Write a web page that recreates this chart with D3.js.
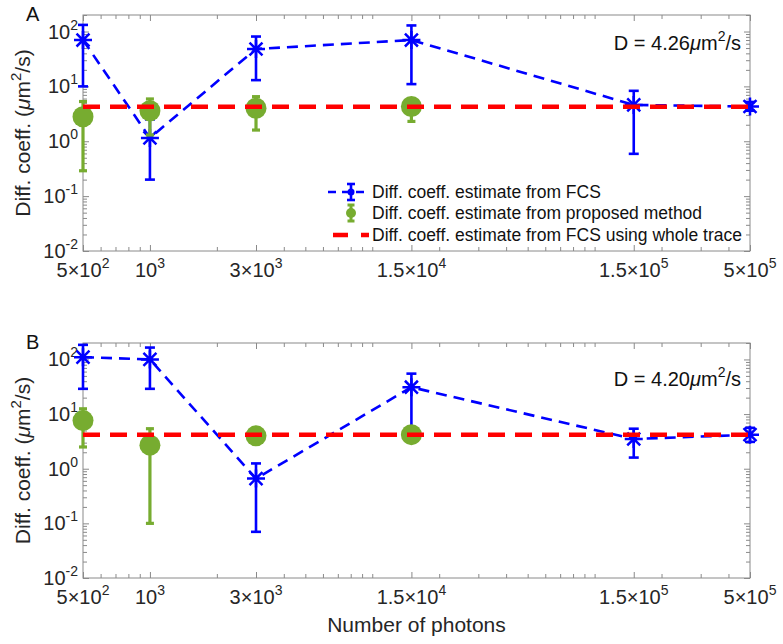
<!DOCTYPE html>
<html>
<head>
<meta charset="utf-8">
<script src="https://cdn.jsdelivr.net/npm/d3@7"></script>
<style>
body { margin: 0; background: #fff; }
svg { font-family: "Liberation Sans", Arial, Helvetica, sans-serif; }
</style>
</head>
<body>
<svg width="783" height="644"></svg>
<script>
// number of photons (x positions)
var photons = [500, 1000, 3000, 15000, 150000, 500000];
var xTickMant = ["5", "", "3", "1.5", "1.5", "5"];
var xTickExp = ["2", "3", "3", "4", "5", "5"];
var yTicks = [0.01, 0.1, 1, 10, 100];
var yTickExp = ["-2", "-1", "0", "1", "2"];

// panel A
var fcsA = [70, 1.15, 48, 70, 4.6, 4.3];
var fcsALo = [10, 0.2, 13, 11, 0.59, 3.6];
var fcsAHi = [132, 2.5, 81, 129, 8.3, 5.2];
var propA = [2.8, 3.6, 4.0, 4.3];
var propALo = [0.29, 1.3, 1.6, 2.3];
var propAHi = [5.3, 5.9, 6.5, 5.8];
var wholeA = 4.26;

// panel B
var fcsB = [110, 100, 0.66, 31, 3.5, 4.2];
var fcsBLo = [29, 29, 0.07, 4.2, 1.6, 3.1];
var fcsBHi = [185, 165, 1.25, 55, 5.4, 5.6];
var propB = [7.6, 2.7, 4.0, 4.2];
var propBLo = [2.5, 0.1, 3.6, 3.8];
var propBHi = [12.5, 5.4, 4.6, 4.6];
var wholeB = 4.20;

var legendLabels = ["Diff. coeff. estimate from FCS",
                    "Diff. coeff. estimate from proposed method",
                    "Diff. coeff. estimate from FCS using whole trace"];

var blue = "#0000ff", green = "#77ac30", red = "#ff0000";
var axisColor = "#8a8a8a", textColor = "#262626";

var svg = d3.select('svg');
var left = 83, right = 750;

var x = d3.scaleLog().domain([500, 5e5]).range([left, right]);

function sci(sel, mant, exp) {
    sel.append('tspan').text(mant ? mant + '\u00d710' : '10');
    sel.append('tspan').attr('dy', -9).style('font-size', '14px').text(exp);
}

function asterisk(g, cx, cy) {
    var r = 9, d = r * 0.72;
    g.append('path')
     .attr('d', 'M' + (cx - r) + ',' + cy + 'L' + (cx + r) + ',' + cy +
                'M' + cx + ',' + (cy - r) + 'L' + cx + ',' + (cy + r) +
                'M' + (cx - d) + ',' + (cy - d) + 'L' + (cx + d) + ',' + (cy + d) +
                'M' + (cx - d) + ',' + (cy + d) + 'L' + (cx + d) + ',' + (cy - d))
     .attr('stroke', blue).attr('stroke-width', 2.5).attr('fill', 'none');
}

function errbar(g, cx, y0, y1, color, w, cap) {
    g.append('line').attr('x1', cx).attr('x2', cx).attr('y1', y0).attr('y2', y1)
     .attr('stroke', color).attr('stroke-width', w);
    [y0, y1].forEach(function(yy) {
        g.append('line').attr('x1', cx - cap).attr('x2', cx + cap).attr('y1', yy).attr('y2', yy)
         .attr('stroke', color).attr('stroke-width', w);
    });
}

function panel(top, bottom, letter, fcs, lo, hi, prop, plo, phi, whole, annotDy, showLegend) {
    var g = svg.append('g');
    var y = d3.scaleLog().domain([0.01, 200]).range([bottom, top]);

    var minorX = x.ticks().filter(function(v) { return photons.indexOf(v) < 0; });
    var minorY = y.ticks().filter(function(v) { return yTicks.indexOf(v) < 0; });

    // ticks (pointing inward)
    function ax(axis, tr, vals, len) {
        var a = g.append('g').attr('transform', tr)
            .call(axis.tickValues(vals).tickSize(-len).tickFormat(''));
        a.select('.domain').remove();
        a.selectAll('line').attr('stroke', axisColor);
    }
    ax(d3.axisBottom(x), 'translate(0,' + bottom + ')', photons, 6);
    ax(d3.axisBottom(x), 'translate(0,' + bottom + ')', minorX, 4);
    ax(d3.axisTop(x), 'translate(0,' + top + ')', photons, 6);
    ax(d3.axisTop(x), 'translate(0,' + top + ')', minorX, 4);
    ax(d3.axisLeft(y), 'translate(' + left + ',0)', yTicks, 6);
    ax(d3.axisLeft(y), 'translate(' + left + ',0)', minorY, 4);
    ax(d3.axisRight(y), 'translate(' + right + ',0)', yTicks, 6);
    ax(d3.axisRight(y), 'translate(' + right + ',0)', minorY, 4);

    g.append('rect').attr('x', left).attr('y', top)
     .attr('width', right - left).attr('height', bottom - top)
     .attr('fill', 'none').attr('stroke', axisColor).attr('stroke-width', 1);

    // tick labels
    photons.forEach(function(p, i) {
        var t = g.append('text').attr('x', x(p)).attr('y', bottom + 26)
            .attr('text-anchor', 'middle').attr('fill', textColor).style('font-size', '20px');
        sci(t, xTickMant[i], xTickExp[i]);
    });
    yTicks.forEach(function(v, i) {
        var t = g.append('text').attr('x', 78).attr('y', y(v) + 7)
            .attr('text-anchor', 'end').attr('fill', textColor).style('font-size', '20px');
        sci(t, '', yTickExp[i]);
    });

    // y label
    var yl = g.append('text')
        .attr('transform', 'translate(30,' + ((top + bottom) / 2) + ') rotate(-90)')
        .attr('text-anchor', 'middle').attr('fill', textColor).style('font-size', '21px');
    yl.append('tspan').text('Diff. coeff. (');
    yl.append('tspan').style('font-style', 'italic').text('\u03bc');
    yl.append('tspan').text('m');
    yl.append('tspan').attr('dy', -9).style('font-size', '15px').text('2');
    yl.append('tspan').attr('dy', 9).text('/s)');

    // panel letter
    g.append('text').attr('x', 26).attr('y', top + 6).attr('fill', '#111')
     .style('font-size', '20px').text(letter);

    // FCS estimates
    var line = d3.line().x(function(d, i) { return x(photons[i]); }).y(function(d) { return y(d); });
    g.append('path').datum(fcs).attr('d', line)
     .attr('fill', 'none').attr('stroke', blue).attr('stroke-width', 2.6)
     .attr('stroke-dasharray', '11,7');
    fcs.forEach(function(v, i) {
        errbar(g, x(photons[i]), y(lo[i]), y(hi[i]), blue, 2.6, 5);
        asterisk(g, x(photons[i]), y(v));
    });

    // proposed method
    prop.forEach(function(v, i) {
        errbar(g, x(photons[i]), y(plo[i]), y(phi[i]), green, 3.2, 4);
        g.append('circle').attr('cx', x(photons[i])).attr('cy', y(v)).attr('r', 10.5)
         .attr('fill', green);
    });

    // whole trace
    g.append('line').attr('x1', left).attr('x2', right)
     .attr('y1', y(whole)).attr('y2', y(whole))
     .attr('stroke', red).attr('stroke-width', 4.5).attr('stroke-dasharray', '17,10');

    // annotation
    var an = g.append('text').attr('x', 741).attr('y', top + annotDy)
        .attr('text-anchor', 'end').attr('fill', '#111').style('font-size', '20px');
    an.append('tspan').text('D = ' + whole.toFixed(2));
    an.append('tspan').style('font-style', 'italic').text('\u03bc');
    an.append('tspan').text('m');
    an.append('tspan').attr('dy', -9).style('font-size', '14px').text('2');
    an.append('tspan').attr('dy', 9).text('/s');

    if (showLegend) {
        var rows = [192, 213, 235];
        var lg = g.append('g');
        // FCS
        lg.append('line').attr('x1', 328).attr('x2', 368).attr('y1', rows[0]).attr('y2', rows[0])
          .attr('stroke', blue).attr('stroke-width', 2.6).attr('stroke-dasharray', '8,6');
        errbar(lg, 351, rows[0] - 8, rows[0] + 8, blue, 2.6, 4);
        lg.append('circle').attr('cx', 351).attr('cy', rows[0]).attr('r', 3.5).attr('fill', blue);
        // proposed
        errbar(lg, 351, rows[1] - 8, rows[1] + 8, green, 3, 3.5);
        lg.append('circle').attr('cx', 351).attr('cy', rows[1]).attr('r', 5).attr('fill', green);
        // whole trace
        lg.append('line').attr('x1', 333).attr('x2', 369).attr('y1', rows[2]).attr('y2', rows[2])
          .attr('stroke', red).attr('stroke-width', 4.5).attr('stroke-dasharray', '15,13');
        legendLabels.forEach(function(l, i) {
            lg.append('text').attr('x', 372).attr('y', rows[i] + 6).attr('fill', '#111')
              .style('font-size', '17.5px').text(l);
        });
    }
}

panel(15, 251, 'A', fcsA, fcsALo, fcsAHi, propA, propALo, propAHi, wholeA, 35, true);
panel(343, 578, 'B', fcsB, fcsBLo, fcsBHi, propB, propBLo, propBHi, wholeB, 43, false);

// x label
svg.append('text').attr('x', (left + right) / 2).attr('y', 632)
   .attr('text-anchor', 'middle').attr('fill', textColor).style('font-size', '21px')
   .text('Number of photons');
</script>
</body>
</html>
